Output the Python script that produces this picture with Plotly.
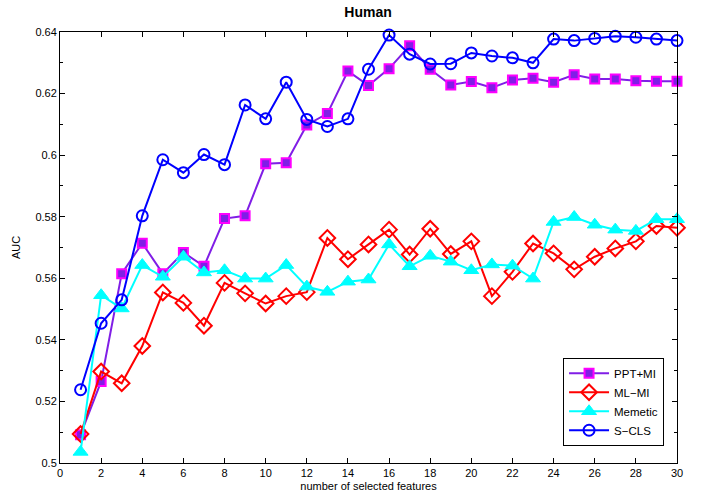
import plotly.graph_objects as go

x = list(range(1, 31))

ppt_mi = [0.5092, 0.5265, 0.5615, 0.5714, 0.5615, 0.5684, 0.5639, 0.5794, 0.5803, 0.5972,
          0.5975, 0.6098, 0.6135, 0.6273, 0.6226, 0.6281, 0.6355, 0.6279, 0.6228, 0.6239,
          0.6219, 0.6244, 0.6250, 0.6237, 0.6261, 0.6247, 0.6247, 0.6242, 0.6240, 0.6240]
ml_mi = [0.5094, 0.5297, 0.5259, 0.5380, 0.5554, 0.5520, 0.5446, 0.5585, 0.5551, 0.5518,
         0.5542, 0.5555, 0.5731, 0.5662, 0.5710, 0.5758, 0.5677, 0.5761, 0.5679, 0.5720,
         0.5542, 0.5621, 0.5713, 0.5681, 0.5629, 0.5670, 0.5697, 0.5720, 0.5770, 0.5764]
memetic = [0.5036, 0.5545, 0.5502, 0.5643, 0.5605, 0.5670, 0.5619, 0.5626, 0.5599, 0.5599,
           0.5643, 0.5573, 0.5556, 0.5589, 0.5596, 0.5710, 0.5639, 0.5673, 0.5654, 0.5626,
           0.5645, 0.5641, 0.5599, 0.5783, 0.5799, 0.5774, 0.5758, 0.5754, 0.5792, 0.5792]
s_cls = [0.5238, 0.5454, 0.5530, 0.5803, 0.5985, 0.5943, 0.6002, 0.5969, 0.6163, 0.6118,
         0.6237, 0.6116, 0.6093, 0.6118, 0.6279, 0.6390, 0.6328, 0.6296, 0.6297, 0.6332,
         0.6322, 0.6316, 0.6300, 0.6377, 0.6372, 0.6379, 0.6386, 0.6383, 0.6377, 0.6372]

x_ticks = list(range(0, 31, 2))
y_ticks = [0.5, 0.52, 0.54, 0.56, 0.58, 0.6, 0.62, 0.64]
y_tick_text = ["0.5", "0.52", "0.54", "0.56", "0.58", "0.6", "0.62", "0.64"]

FONT = "Liberation Sans, Arial, Helvetica, sans-serif"

fig = go.Figure()
fig.add_trace(go.Scatter(
    x=x, y=ppt_mi, name="PPT+MI", mode="lines+markers", cliponaxis=False,
    line=dict(color="rgb(128,30,230)", width=2),
    marker=dict(symbol="square", size=9, color="rgb(128,30,230)",
                line=dict(color="#ff00ff", width=2))))
fig.add_trace(go.Scatter(
    x=x, y=ml_mi, name="ML\u2212MI", mode="lines+markers", cliponaxis=False,
    line=dict(color="#ff0000", width=2),
    marker=dict(symbol="diamond-open", size=12, color="#ff0000",
                line=dict(color="#ff0000", width=2))))
fig.add_trace(go.Scatter(
    x=x, y=memetic, name="Memetic", mode="lines+markers", cliponaxis=False,
    line=dict(color="#00ffff", width=2),
    marker=dict(symbol="triangle-up", size=13, color="#00ffff",
                line=dict(color="#00ffff", width=1))))
fig.add_trace(go.Scatter(
    x=x, y=s_cls, name="S\u2212CLS", mode="lines+markers", cliponaxis=False,
    line=dict(color="#0000ff", width=2),
    marker=dict(symbol="circle-open", size=11, color="#0000ff",
                line=dict(color="#0000ff", width=2))))

axis_common = dict(
    showline=True, linecolor="black", linewidth=1, mirror="ticks",
    ticks="inside", ticklen=5, tickcolor="black", tickwidth=1,
    showgrid=False, zeroline=False,
    tickfont=dict(family=FONT, size=11, color="black"),
)

fig.update_xaxes(range=[0, 30], tickvals=x_ticks,
                 title=dict(text="number of selected features",
                            font=dict(family=FONT, size=11, color="black"), standoff=4),
                 **axis_common)
fig.update_yaxes(range=[0.5, 0.64], tickvals=y_ticks, ticktext=y_tick_text,
                 minor=dict(dtick=0.01, ticks="inside", ticklen=3, tickcolor="black", showgrid=False),
                 title=dict(text="AUC", font=dict(family=FONT, size=11, color="black"), standoff=12),
                 **axis_common)

fig.update_layout(
    width=701, height=503,
    margin=dict(l=60, r=24, t=32, b=38, pad=0),
    paper_bgcolor="white", plot_bgcolor="white",
    title=dict(text="<b>Human</b>", x=0.525, xanchor="center", y=0.985, yanchor="top",
               font=dict(family=FONT, size=14, color="black")),
    font=dict(family=FONT, size=11, color="black"),
    legend=dict(x=0.979, xanchor="right", y=0.04, yanchor="bottom",
                bgcolor="white", bordercolor="black", borderwidth=1,
                font=dict(family=FONT, size=11.5, color="black"),
                tracegroupgap=0, itemwidth=40),
    showlegend=True,
)

fig.write_html("out.html")
